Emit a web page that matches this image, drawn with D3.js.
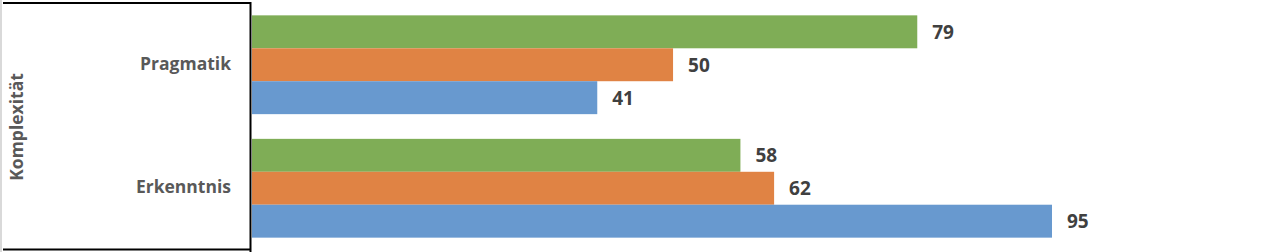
<!DOCTYPE html>
<meta charset="utf-8">
<style>
body { margin: 0; background: #fff; }
.cat { font-family: "Open Sans", sans-serif; font-weight: bold; fill: #595959; }
.val { font-family: "Open Sans", sans-serif; font-weight: bold; fill: #404040; }
</style>
<svg width="1262" height="252"></svg>
<script src="https://d3js.org/d3.v7.min.js"></script>
<script>
var categories = ["Pragmatik", "Erkenntnis"];
var series = ["s1", "s2", "s3"];
var values = {
  s1: [79, 58],
  s2: [50, 62],
  s3: [41, 95]
};
var colors = ["#7fad56", "#e08344", "#6899cf"];
var groupTitle = "Komplexität";

var svg = d3.select("svg"),
    width = +svg.attr("width"),
    height = +svg.attr("height");

var x0 = 252;
var x = d3.scaleLinear()
    .domain([0, 95])
    .range([x0, 1052]);

var y = d3.scaleBand()
    .domain(categories)
    .range([3, 250])
    .paddingInner(0.2)
    .paddingOuter(0.1);

var yInner = d3.scaleBand()
    .domain(series)
    .range([0, y.bandwidth()]);

// frame around the category area
svg.append("line")
    .attr("x1", 1).attr("x2", 1).attr("y1", 0).attr("y2", height)
    .attr("stroke", "#d9d9d9").attr("stroke-width", 2);
svg.append("line")
    .attr("x1", 3).attr("x2", 251).attr("y1", 3).attr("y2", 3)
    .attr("stroke", "#000").attr("stroke-width", 2);
svg.append("line")
    .attr("x1", 3).attr("x2", 251).attr("y1", 249.5).attr("y2", 249.5)
    .attr("stroke", "#000").attr("stroke-width", 2);
svg.append("line")
    .attr("x1", 250.5).attr("x2", 250.5).attr("y1", 2).attr("y2", height)
    .attr("stroke", "#000").attr("stroke-width", 2);

var groups = svg.append("g").selectAll("g")
  .data(categories)
  .enter().append("g")
    .attr("transform", function(d) { return "translate(0," + y(d) + ")"; });

groups.selectAll("rect")
  .data(function(d, i) { return series.map(function(s, j) { return {s: s, v: values[s][i], c: colors[j]}; }); })
  .enter().append("rect")
    .attr("x", x(0))
    .attr("y", function(d) { return yInner(d.s); })
    .attr("width", function(d) { return x(d.v) - x(0); })
    .attr("height", yInner.bandwidth())
    .attr("fill", function(d) { return d.c; });

groups.selectAll("text.val")
  .data(function(d, i) { return series.map(function(s) { return {s: s, v: values[s][i]}; }); })
  .enter().append("text")
    .attr("class", "val")
    .attr("x", function(d) { return x(d.v) + 15; })
    .attr("y", function(d) { return yInner(d.s) + yInner.bandwidth() / 2; })
    .attr("dy", "0.36em")
    .attr("font-size", 19)
    .text(function(d) { return d.v; });

groups.append("text")
    .attr("class", "cat")
    .attr("x", 231)
    .attr("y", y.bandwidth() / 2 - 1.5)
    .attr("dy", "0.36em")
    .attr("text-anchor", "end")
    .attr("font-size", 17.5)
    .text(function(d) { return d; });

svg.append("text")
    .attr("class", "cat")
    .attr("transform", "translate(17,127) rotate(-90)")
    .attr("text-anchor", "middle")
    .attr("dy", "0.36em")
    .attr("font-size", 17.5)
    .text(groupTitle);
</script>
